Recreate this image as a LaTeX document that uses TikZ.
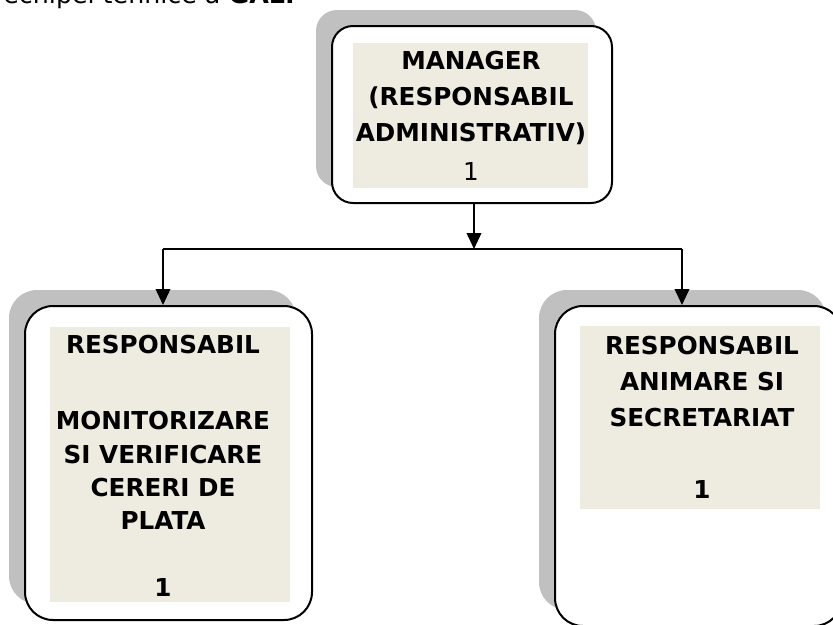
\documentclass[tikz,border=0pt]{standalone}
\usepackage{fontspec}
\setmainfont{DejaVu Sans}
\usetikzlibrary{calc,shadows,arrows.meta}
\definecolor{frameBeige}{HTML}{EEECE1}
\definecolor{shadowGray}{HTML}{C0C0C0}
\newcommand{\Px}{0.75pt}
\tikzset{Box/.style={
    inner sep=0pt,
    draw=black,
    line width=1.5pt,
    fill=white,
    general shadow={fill=shadowGray, shadow xshift=-12pt, shadow yshift=12pt},
    }
}

\begin{document}
\begin{tikzpicture}[x=\Px, y=-\Px,
    Frame/.style={inner sep=0pt, fill=frameBeige},
    Label/.style={inner sep=0pt, align=center, font=\fontsize{18.5}{27}\selectfont\bfseries},
    Arrow/.style={line width=1.2pt, -{Triangle[width=11pt,length=12pt]}},
]
\useasboundingbox (0,0) rectangle (833,625);
% text of the page, cut by the top edge
\node [anchor=base east, inner sep=0pt, font=\fontsize{19}{22}\selectfont] (intro) at (295,3) {echipei tehnice a \textbf{GAL.}};

\node [Box, rounded corners=21*\Px, minimum width=280*\Px, minimum height=177*\Px] (mgr) at (472,114.5) {};
\node [Frame, minimum width=235*\Px, minimum height=145*\Px] (mgrFrame) at (470.5,115.5) {};
\node [Label] (mgrText) at (471,116) {MANAGER\\(RESPONSABIL\\ADMINISTRATIV)\\[2pt]{\mdseries 1}};

\node [Box, rounded corners=28*\Px, minimum width=287*\Px, minimum height=314*\Px] (mon) at (168.5,463) {};
\node [Frame, minimum width=240*\Px, minimum height=275*\Px] (monFrame) at (170,464.5) {};
\node [Label, font=\fontsize{18.5}{25}\selectfont\bfseries] (monText) at (163,466) {RESPONSABIL\\[32pt]MONITORIZARE\\SI VERIFICARE\\CERERI DE\\PLATA\\[25pt]1};

\node [Box, rounded corners=28*\Px, minimum width=287*\Px, minimum height=320*\Px] (sec) at (698.5,466) {};
\node [Frame, minimum width=240*\Px, minimum height=183*\Px] (secFrame) at (700,417.5) {};
\node [Label] (secText) at (702,417.5) {RESPONSABIL\\ANIMARE SI\\SECRETARIAT\\[27pt]1};

\coordinate (split) at (474,249);
\coordinate (jl) at (163,249);
\coordinate (jr) at (682,249);
\draw [Arrow] (split |- mgr.south) -- (split);
\draw [line width=1.2pt] (jl) -- (jr);
\draw [Arrow] (jl) -- (jl |- mon.north);
\draw [Arrow] (jr) -- (jr |- sec.north);
\end{tikzpicture}
\end{document}
